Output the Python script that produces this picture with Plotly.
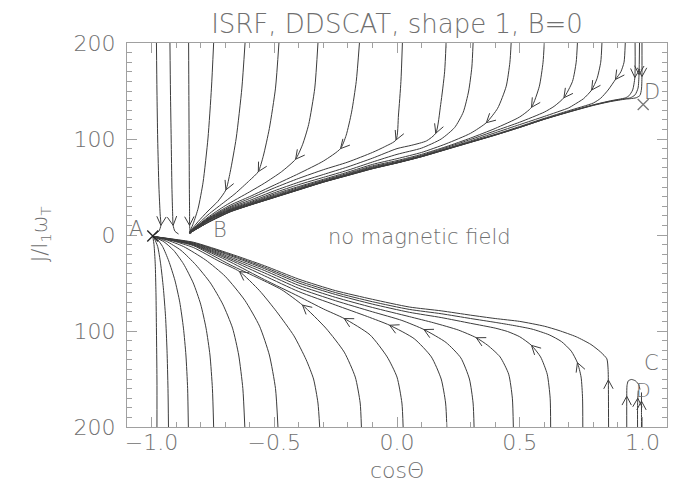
import math
import plotly.graph_objects as go

# ---------------- axes / labels ----------------
X_RANGE = [-1.1, 1.1]
Y_RANGE = [-200, 200]
X_TICKS = [-1.0, -0.5, 0.0, 0.5, 1.0]
X_TICK_TEXT = ["\u22121.0", "\u22120.5", "0.0", "0.5", "1.0"]
Y_TICKS = [-200, -100, 0, 100, 200]
Y_TICK_TEXT = ["200", "100", "0", "100", "200"]

TITLE = "ISRF, DDSCAT, shape 1, B=0"
X_TITLE = "cos\u0398"
Y_TITLE = "J/I<sub>1</sub>\u03c9<sub>T</sub>"

# ---------------- upper trajectories (J > 0), listed in direction of motion ----------------
u01_x = [-0.98, -0.978, -0.975, -0.97, -0.965, -0.962, -0.97, -0.99]
u01_y = [200, 150, 100, 50, 22, 10, 4, 0]
u02_x = [-0.925, -0.923, -0.92, -0.917, -0.914, -0.912, -0.905, -0.89]
u02_y = [200, 150, 100, 50, 22, 10, 4, 1]
u03_x = [-0.849, -0.848, -0.847, -0.846, -0.845, -0.845, -0.843, -0.84]
u03_y = [200, 150, 100, 50, 22, 10, 4, 1]
u04_x = [-0.747, -0.756, -0.77, -0.79, -0.81, -0.83, -0.845]
u04_y = [200, 153, 101, 55, 28, 12, 3]
u05_x = [-0.619, -0.632, -0.655, -0.68, -0.697, -0.73, -0.77, -0.81, -0.845]
u05_y = [200, 153, 101, 65, 47, 35, 25, 14, 3]
u06_x = [-0.481, -0.495, -0.52, -0.545, -0.565, -0.6, -0.66, -0.7, -0.77, -0.845]
u06_y = [200, 153, 111, 82, 66, 57, 43, 35, 21, 3]
u07_x = [-0.322, -0.335, -0.36, -0.385, -0.413, -0.47, -0.54, -0.6, -0.7, -0.77, -0.845]
u07_y = [200, 153, 115, 94, 79, 66, 54, 45, 30.5, 18.5, 3]
u08_x = [-0.153, -0.166, -0.185, -0.207, -0.23, -0.3, -0.4, -0.5, -0.6, -0.68, -0.77, -0.845]
u08_y = [200, 160, 128, 104, 90, 77, 64, 52, 40, 31, 17.5, 3]
u09_x = [0.022, 0.016, 0.006, -0.004, -0.05, -0.1, -0.2, -0.3, -0.4, -0.5, -0.6, -0.68, -0.77, -0.845]
u09_y = [200, 160, 125, 99, 92, 86, 76, 68, 59, 49, 38, 29.5, 17, 3]
u10_x = [0.2, 0.194, 0.178, 0.158, 0.12, 0.06, 0.0, -0.1, -0.2, -0.3, -0.4, -0.5, -0.6, -0.68, -0.77, -0.845]
u10_y = [200, 170, 136, 106, 98, 93.5, 90, 80, 71, 63, 55, 46, 36, 28.5, 16.5, 2.8]
u11_x = [0.31, 0.305, 0.292, 0.27, 0.235, 0.18, 0.1, 0.0, -0.1, -0.2, -0.3, -0.4, -0.5, -0.6, -0.68, -0.77, -0.845]
u11_y = [200, 175, 150, 128, 112, 100, 90.5, 84, 76, 67.5, 60, 52.5, 44, 34.5, 27.5, 16, 2.6]
u12_x = [0.465, 0.46, 0.445, 0.41, 0.364, 0.3, 0.2, 0.1, 0.0, -0.1, -0.2, -0.3, -0.4, -0.5, -0.6, -0.68, -0.77, -0.845]
u12_y = [200, 180, 155, 132, 117, 106, 95, 86, 79.5, 73.5, 65.5, 58, 50.5, 42.5, 33.5, 26.8, 15.5, 2.4]
u13_x = [0.6, 0.595, 0.58, 0.548, 0.5, 0.4, 0.3, 0.2, 0.1, 0.0, -0.1, -0.2, -0.3, -0.4, -0.5, -0.6, -0.68, -0.77, -0.845]
u13_y = [200, 180, 155, 133, 123, 111, 101, 92, 84, 77.5, 72, 64.3, 57, 49.5, 41.3, 32.8, 26.2, 15.1, 2.2]
u14_x = [0.735, 0.73, 0.715, 0.68, 0.64, 0.6, 0.5, 0.4, 0.3, 0.2, 0.1, 0.0, -0.1, -0.2, -0.3, -0.4, -0.5, -0.6, -0.68, -0.77, -0.845]
u14_y = [200, 180, 160, 143, 134, 128, 117.5, 108.5, 99.5, 91, 83, 76.5, 71, 63.5, 56.2, 48.5, 40.5, 32.2, 25.8, 14.8, 2.1]
u15_x = [0.835, 0.83, 0.815, 0.793, 0.76, 0.72, 0.7, 0.6, 0.5, 0.4, 0.3, 0.2, 0.1, 0.0, -0.1, -0.2, -0.3, -0.4, -0.5, -0.6, -0.68, -0.77, -0.845]
u15_y = [200, 180, 163, 151, 142, 135.5, 132.5, 123.5, 115, 106.5, 98, 90, 82.3, 75.8, 70.3, 62.8, 55.7, 47.8, 39.8, 31.6, 25.3, 14.5, 2.05]
u16_x = [0.93, 0.925, 0.912, 0.89, 0.86, 0.83, 0.8, 0.7, 0.6, 0.5, 0.4, 0.3, 0.2, 0.1, 0.0, -0.1, -0.2, -0.3, -0.4, -0.5, -0.6, -0.68, -0.77, -0.845]
u16_y = [200, 180, 170, 162, 151, 142.5, 137.5, 129.5, 121.5, 113, 104.8, 97.2, 89.5, 82, 75.4, 69.6, 62.5, 55.4, 47.5, 39.5, 31.4, 24.6, 13.3, 2.02]
u17_x = [0.97, 0.969, 0.96, 0.945, 0.93, 0.87, 0.8, 0.7, 0.6, 0.5, 0.4, 0.3, 0.2, 0.1, 0.0, -0.1, -0.2, -0.3, -0.4, -0.5, -0.6, -0.68, -0.77, -0.845]
u17_y = [200, 164, 151, 145, 142.8, 139.8, 135.6, 128.5, 120.8, 112.3, 104.3, 96.8, 89.3, 81.7, 75.2, 69.3, 62.3, 55.2, 47.3, 39.3, 31.2, 24.4, 13.2, 2.01]
u18_x = [0.988, 0.986, 0.982, 0.97, 0.95, 0.93, 0.87, 0.8, 0.7, 0.6, 0.5, 0.4, 0.3, 0.2, 0.1, 0.0, -0.1, -0.2, -0.3, -0.4, -0.5, -0.6, -0.68, -0.77, -0.845]
u18_y = [200, 167, 153, 146, 142.8, 142, 139.4, 135.3, 128.2, 120.6, 112.1, 104.1, 96.6, 89.1, 81.6, 75.1, 69.1, 62.1, 55.1, 47.1, 39.1, 31.1, 24.2, 13.1, 2.0]
u19_x = [0.998, 0.998, 0.996, 0.99, 0.975, 0.95, 0.93, 0.87, 0.8, 0.7, 0.6, 0.5, 0.4, 0.3, 0.2, 0.1, 0.0, -0.1, -0.2, -0.3, -0.4, -0.5, -0.6, -0.68, -0.77, -0.845]
u19_y = [200, 165, 152, 145.5, 143, 142, 141.5, 139, 135, 128, 120.5, 112, 104, 96.5, 89, 81.5, 75, 69, 62, 55, 47, 39, 31, 24, 13, 2]

# index of the point carrying a direction chevron (None = no chevron)
u_arrow = [5, 5, 5, None, 4, 4, 4, 4, 3, 3, None, 4, 3, 3, 3, 3, 1, 1, 1]

# ---------------- lower trajectories (J < 0), listed in direction of motion ----------------
l01_x = [-0.978, -0.978, -0.98, -0.982, -0.985, -0.99, -0.995]
l01_y = [-200, -150, -100, -60, -30, -10, -1.5]
l02_x = [-0.931, -0.933, -0.937, -0.943, -0.952, -0.963, -0.975, -0.988, -0.995]
l02_y = [-200, -160, -120, -85, -55, -30, -12, -4, -1.5]
l03_x = [-0.85, -0.853, -0.86, -0.87, -0.885, -0.905, -0.93, -0.955, -0.975, -0.995]
l03_y = [-200, -160, -125, -97, -70, -47, -27, -12, -5, -1.5]
l04_x = [-0.747, -0.752, -0.762, -0.778, -0.8, -0.83, -0.87, -0.91, -0.95, -0.995]
l04_y = [-200, -160, -125, -97, -72, -50, -30, -16, -7, -1.5]
l05_x = [-0.62, -0.628, -0.645, -0.67, -0.71, -0.76, -0.82, -0.88, -0.94, -0.995]
l05_y = [-200, -160, -125, -97, -72, -50, -31, -16, -6.5, -1.5]
l06_x = [-0.485, -0.495, -0.52, -0.56, -0.62, -0.7, -0.78, -0.87, -0.94, -0.995]
l06_y = [-200, -160, -125, -95, -68, -43, -26, -12, -5, -1.5]
l07_x = [-0.315, -0.322, -0.34, -0.37, -0.42, -0.49, -0.56, -0.642, -0.72, -0.83, -0.92, -0.995]
l07_y = [-200, -175, -150, -130, -105, -80, -58, -38, -28, -13, -5.6, -1.5]
l08_x = [-0.145, -0.15, -0.17, -0.215, -0.29, -0.385, -0.47, -0.56, -0.68, -0.83, -0.92, -0.995]
l08_y = [-200, -175, -148, -122, -97, -73, -57, -45.5, -31, -11, -5.4, -1.5]
l09_x = [0.025, 0.02, 0.0, -0.04, -0.11, -0.215, -0.3, -0.4, -0.54, -0.68, -0.83, -0.92, -0.995]
l09_y = [-200, -175, -148, -127, -104, -87, -77, -64, -46.5, -28, -10.5, -5.2, -1.5]
l10_x = [0.203, 0.198, 0.18, 0.14, 0.07, -0.03, -0.12, -0.25, -0.4, -0.54, -0.68, -0.83, -0.92, -0.995]
l10_y = [-200, -175, -150, -127, -108, -94, -85, -73, -59, -42.5, -26, -10, -5, -1.5]
l11_x = [0.314, 0.31, 0.295, 0.26, 0.2, 0.11, 0.02, -0.1, -0.25, -0.4, -0.54, -0.68, -0.83, -0.92, -0.995]
l11_y = [-200, -175, -150, -128, -112, -98.5, -89, -80, -68.5, -55.5, -39.5, -24.5, -9.5, -4.8, -1.5]
l12_x = [0.474, 0.47, 0.455, 0.42, 0.37, 0.323, 0.25, 0.15, 0.05, -0.1, -0.25, -0.4, -0.54, -0.68, -0.83, -0.92, -0.995]
l12_y = [-200, -170, -145, -127, -115, -107, -99, -91.5, -85, -75.5, -65, -52.5, -37, -23, -9, -4.6, -1.5]
l13_x = [0.626, 0.624, 0.612, 0.585, 0.548, 0.5, 0.45, 0.4, 0.3, 0.18, 0.05, -0.1, -0.25, -0.4, -0.54, -0.68, -0.83, -0.92, -0.995]
l13_y = [-200, -170, -145, -127, -115, -106, -100.5, -97, -92, -86, -80.5, -72, -62, -50, -35, -21.5, -8.5, -4.4, -1.5]
l14_x = [0.757, 0.756, 0.75, 0.735, 0.71, 0.67, 0.62, 0.55, 0.47, 0.4, 0.3, 0.18, 0.05, -0.1, -0.25, -0.4, -0.54, -0.68, -0.83, -0.92, -0.995]
l14_y = [-200, -170, -148, -133, -121, -111, -104, -98, -94, -91, -87, -82, -77.5, -69.5, -60, -48, -33.5, -20.5, -8, -4.2, -1.5]
l15_x = [0.862, 0.861, 0.86, 0.855, 0.83, 0.79, 0.73, 0.66, 0.6, 0.5, 0.4, 0.3, 0.18, 0.05, -0.1, -0.25, -0.4, -0.54, -0.68, -0.83, -0.92, -0.995]
l15_y = [-200, -151, -140, -129, -122, -114, -106, -99.5, -95, -90, -87, -83.5, -79, -75, -67, -58, -46, -32, -19.5, -7.5, -4, -1.5]
l16_x = [0.936, 0.936, 0.937, 0.942, 0.955, 0.972, 0.985, 0.99]
l16_y = [-200, -168, -157, -152, -150.5, -152, -156, -161]
l17_x = [0.98, 0.98, 0.981, 0.983]
l17_y = [-200, -180, -170, -162]
l18_x = [0.996, 0.996, 0.996, 0.996]
l18_y = [-200, -185, -173, -164]

l_arrow = [None, None, None, None, None, None, 7, 5, 5, 5, 5, 5, 4, 3, 1, 1, 2, 2]

# ---------------- special points and labels ----------------
cross_x = [1.003, -0.995]
cross_y = [136, -1]
label_text = ["A", "B", "D", "C", "D", "no magnetic field"]
label_x = [-1.063, -0.72, 1.04, 1.035, 1.006, 0.09]
label_y = [6, 5, 149, -133, -161, -2]
label_size = [21, 21, 21, 21, 19, 21]

# ---------------- styling ----------------
W, H = 676, 486
M_L, M_R, M_T, M_B = 119, 17, 35, 67
PLOT_W = W - M_L - M_R
PLOT_H = H - M_T - M_B
SX = PLOT_W / (X_RANGE[1] - X_RANGE[0])
SY = PLOT_H / (Y_RANGE[1] - Y_RANGE[0])
LINE_COLOR = "#3c3c3c"
AXIS_COLOR = "#a0a0a0"
TEXT_COLOR = "#707070"
FONT = "DejaVu Sans"
ARM = 10.0
HALF_ANGLE = math.radians(28)

upper = [(u01_x, u01_y), (u02_x, u02_y), (u03_x, u03_y), (u04_x, u04_y), (u05_x, u05_y),
         (u06_x, u06_y), (u07_x, u07_y), (u08_x, u08_y), (u09_x, u09_y), (u10_x, u10_y),
         (u11_x, u11_y), (u12_x, u12_y), (u13_x, u13_y), (u14_x, u14_y), (u15_x, u15_y),
         (u16_x, u16_y), (u17_x, u17_y), (u18_x, u18_y), (u19_x, u19_y)]
lower = [(l01_x, l01_y), (l02_x, l02_y), (l03_x, l03_y), (l04_x, l04_y), (l05_x, l05_y),
         (l06_x, l06_y), (l07_x, l07_y), (l08_x, l08_y), (l09_x, l09_y), (l10_x, l10_y),
         (l11_x, l11_y), (l12_x, l12_y), (l13_x, l13_y), (l14_x, l14_y), (l15_x, l15_y),
         (l16_x, l16_y), (l17_x, l17_y), (l18_x, l18_y)]


def chevron(xs, ys, k):
    i0 = max(k - 1, 0)
    i1 = min(k + 1, len(xs) - 1)
    dx = (xs[i1] - xs[i0]) * SX
    dy = (ys[i1] - ys[i0]) * SY
    n = math.hypot(dx, dy)
    ux, uy = dx / n, dy / n
    px, py = [], []
    for s in (1, -1):
        a = HALF_ANGLE * s
        bx = -ux * math.cos(a) + uy * math.sin(a)
        by = -ux * math.sin(a) - uy * math.cos(a)
        px.append(xs[k] + ARM * bx / SX)
        py.append(ys[k] + ARM * by / SY)
    return [px[0], xs[k], px[1], None], [py[0], ys[k], py[1], None]


fig = go.Figure()
chev_x, chev_y = [], []
for curves, arrows in ((upper, u_arrow), (lower, l_arrow)):
    for (xs, ys), k in zip(curves, arrows):
        fig.add_trace(go.Scatter(x=xs, y=ys, mode="lines",
                                 line=dict(color=LINE_COLOR, width=1, shape="spline", smoothing=0.6),
                                 hoverinfo="skip", showlegend=False))
        if k is not None:
            cx, cy = chevron(xs, ys, k)
            chev_x += cx
            chev_y += cy

fig.add_trace(go.Scatter(x=chev_x, y=chev_y, mode="lines",
                         line=dict(color=LINE_COLOR, width=1),
                         hoverinfo="skip", showlegend=False))
fig.add_trace(go.Scatter(x=cross_x, y=cross_y, mode="markers",
                         marker=dict(symbol="x-thin", size=11,
                                     line=dict(color=["#777777", "#222222"], width=1.3)),
                         hoverinfo="skip", showlegend=False, cliponaxis=False))

for t, x, y, s in zip(label_text, label_x, label_y, label_size):
    fig.add_annotation(x=x, y=y, text=t, showarrow=False, xanchor="center", yanchor="middle",
                       font=dict(family=FONT, size=s, color=TEXT_COLOR, weight=200))

fig.add_annotation(xref="paper", yref="paper", x=0.5, y=-43 / PLOT_H, text=X_TITLE, showarrow=False,
                   xanchor="center", yanchor="middle",
                   font=dict(family=FONT, size=22, color=TEXT_COLOR, weight=200))
fig.add_annotation(xref="paper", yref="paper", x=-86 / PLOT_W, y=0.5, text=Y_TITLE, showarrow=False,
                   textangle=-90, xanchor="center", yanchor="middle",
                   font=dict(family=FONT, size=21, color=TEXT_COLOR, weight=200))

axis_common = dict(showgrid=False, zeroline=False, showline=True, linecolor=AXIS_COLOR, linewidth=1,
                   mirror="allticks", ticks="inside", tickcolor=AXIS_COLOR, tickwidth=1,
                   tickfont=dict(family=FONT, size=22, color=TEXT_COLOR, weight=200))

fig.update_layout(
    width=W, height=H,
    margin=dict(l=M_L, r=M_R, t=M_T, b=M_B),
    paper_bgcolor="white", plot_bgcolor="white",
    title=dict(text=TITLE, x=(M_L + PLOT_W / 2) / W, xanchor="center", y=1 - 16 / H, yanchor="middle",
               yref="container", font=dict(family=FONT, size=26, color=TEXT_COLOR, weight=200)),
    xaxis=dict(range=X_RANGE, tickvals=X_TICKS, ticktext=X_TICK_TEXT, ticklen=10,
               minor=dict(dtick=0.1, tick0=0, ticks="inside", ticklen=5, tickcolor=AXIS_COLOR),
               ticklabelstandoff=-4, **axis_common),
    yaxis=dict(range=Y_RANGE, tickvals=Y_TICKS, ticktext=Y_TICK_TEXT, ticklen=10,
               minor=dict(dtick=10, tick0=0, ticks="inside", ticklen=5, tickcolor=AXIS_COLOR),
               ticklabelstandoff=6, **axis_common),
)

fig.write_html("out.html")
